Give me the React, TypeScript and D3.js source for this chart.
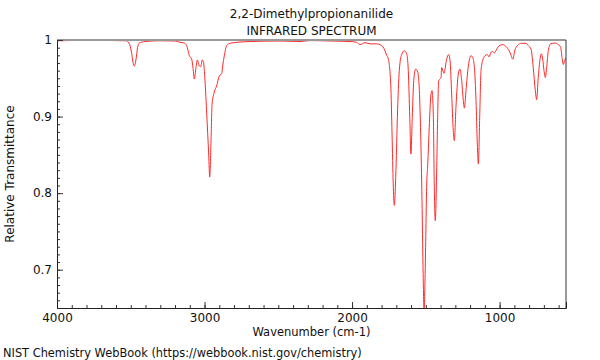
import { FC, useEffect, useRef } from 'react';
import * as d3 from 'd3';

const title = '2,2-Dimethylpropionanilide';
const subtitle = 'INFRARED SPECTRUM';
const xLabel = 'Wavenumber (cm-1)';
const yLabel = 'Relative Transmittance';
const footer = 'NIST Chemistry WebBook (https://webbook.nist.gov/chemistry)';

const xTicks = [4000, 3000, 2000, 1000];
const yTicks = [1, 0.9, 0.8, 0.7];

// spectrum: wavenumber (cm-1) and transmittance
const wavenumber = [
  4000, 3776, 3532, 3512, 3495, 3485, 3476, 3465, 3454, 3442, 3404, 3302, 3200, 3166, 3139, 3121,
  3103, 3087, 3078, 3069, 3058, 3049, 3035, 3026, 3015, 3008, 2997, 2985, 2972, 2965, 2956, 2949,
  2934, 2918, 2900, 2884, 2877, 2866, 2850, 2827, 2782, 2692, 2488, 2353, 2285, 2150, 2014, 1969,
  1946, 1912, 1878, 1833, 1811, 1790, 1765, 1754, 1738, 1729, 1721, 1714, 1702, 1693, 1680, 1664,
  1646, 1630, 1619, 1609, 1601, 1592, 1582, 1569, 1555, 1544, 1535, 1526, 1519, 1512, 1504, 1494,
  1487, 1477, 1465, 1458, 1449, 1443, 1436, 1427, 1420, 1413, 1404, 1397, 1393, 1377, 1359, 1345,
  1336, 1325, 1314, 1307, 1296, 1280, 1269, 1257, 1246, 1239, 1228, 1212, 1194, 1182, 1171, 1160,
  1151, 1144, 1135, 1126, 1115, 1099, 1083, 1072, 1058, 1047, 1036, 1020, 1002, 979, 952, 930,
  911, 896, 880, 850, 821, 805, 787, 772, 758, 749, 738, 726, 717, 708, 699, 690,
  681, 670, 654, 625, 602, 586, 577, 568, 559, 550,
];
const transmittance = [
  0.999, 0.9995, 0.999, 0.996, 0.984, 0.971, 0.966, 0.974, 0.99, 0.996, 0.998, 0.999, 0.9987, 0.997, 0.996, 0.9926,
  0.9795, 0.975, 0.963, 0.949, 0.964, 0.974, 0.966, 0.965, 0.974, 0.972, 0.947, 0.903, 0.851, 0.821, 0.868, 0.916,
  0.932, 0.94, 0.953, 0.956, 0.966, 0.9795, 0.9926, 0.9957, 0.997, 0.998, 0.9987, 0.998, 0.9993, 0.9987, 0.998, 0.997,
  0.994, 0.9965, 0.995, 0.995, 0.994, 0.991, 0.98, 0.975, 0.9425, 0.877, 0.812, 0.784, 0.834, 0.899, 0.96, 0.981,
  0.986, 0.982, 0.96, 0.899, 0.851, 0.899, 0.947, 0.962, 0.958, 0.934, 0.877, 0.79, 0.703, 0.645, 0.703, 0.812,
  0.838, 0.886, 0.9295, 0.934, 0.899, 0.812, 0.764, 0.825, 0.899, 0.947, 0.949, 0.951, 0.964, 0.9565, 0.975, 0.981,
  0.973, 0.9295, 0.8815, 0.8685, 0.912, 0.9556, 0.962, 0.947, 0.921, 0.911, 0.934, 0.966, 0.9795, 0.977, 0.964, 0.921,
  0.864, 0.838, 0.899, 0.96, 0.973, 0.9795, 0.981, 0.978, 0.984, 0.985, 0.983, 0.988, 0.9926, 0.994, 0.9905, 0.984,
  0.975, 0.987, 0.9926, 0.9957, 0.9957, 0.9926, 0.988, 0.964, 0.934, 0.922, 0.951, 0.975, 0.982, 0.975, 0.96, 0.951,
  0.964, 0.986, 0.995, 0.996, 0.994, 0.9905, 0.977, 0.968, 0.973, 0.9765,
];

const IrChart: FC = () => {
  const ref = useRef<SVGSVGElement | null>(null);

  useEffect(() => {
    const svg = d3.select(ref.current);
    svg.selectAll('*').remove();

    const margin = { top: 40, right: 34, bottom: 52, left: 57 };
    const width = 600 - margin.left - margin.right;
    const height = 360 - margin.top - margin.bottom;
    const font = 'DejaVu Sans, sans-serif';

    const x = d3.scaleLinear().domain([4000, 550]).range([0, width]);
    const y = d3.scaleLinear().domain([0.65, 1]).range([height, 0]);

    const g = svg.append('g').attr('transform', `translate(${margin.left},${margin.top})`);

    g.append('clipPath')
      .attr('id', 'plot-clip')
      .append('rect')
      .attr('width', width)
      .attr('height', height + 1);

    const pts = wavenumber.map((w, i) => [w, transmittance[i]] as [number, number]);
    const line = d3
      .line<[number, number]>()
      .x(d => x(d[0]))
      .y(d => y(d[1]))
      .curve(d3.curveMonotoneX);

    g.append('path')
      .datum(pts)
      .attr('clip-path', 'url(#plot-clip)')
      .attr('fill', 'none')
      .attr('stroke', '#ff2a2a')
      .attr('stroke-width', 1)
      .attr('d', line);

    // frame: grey top, dark right
    g.append('line')
      .attr('x1', 0).attr('x2', width).attr('y1', 0).attr('y2', 0)
      .attr('stroke', '#999').attr('stroke-width', 2);
    g.append('line')
      .attr('x1', width).attr('x2', width).attr('y1', 0).attr('y2', height)
      .attr('stroke', '#333').attr('stroke-width', 1);

    const minorX = d3.range(4000, 549, -100);
    const minorY = d3.range(65, 101).map(v => v / 100);

    // bottom axis, ticks pointing inward
    const xa = g.append('g').attr('transform', `translate(0,${height})`);
    xa.call(d3.axisBottom(x).tickValues(minorX).tickSize(-3).tickFormat(() => ''));
    xa.call(g2 => g2.select('.domain').remove());
    const xm = g.append('g').attr('transform', `translate(0,${height})`);
    xm.call(d3.axisBottom(x).tickValues(xTicks).tickSize(-6).tickPadding(5).tickFormat(d3.format('d')));
    xm.selectAll('text').attr('font-family', font).attr('font-size', 12).attr('fill', '#111');

    // left axis
    const ya = g.append('g');
    ya.call(d3.axisLeft(y).tickValues(minorY).tickSize(-3).tickFormat(() => ''));
    ya.call(g2 => g2.select('.domain').remove());
    const ym = g.append('g');
    ym.call(d3.axisLeft(y).tickValues(yTicks).tickSize(-6).tickPadding(5).tickFormat(d => `${d}`));
    ym.selectAll('text').attr('font-family', font).attr('font-size', 12).attr('fill', '#111');

    g.selectAll('.domain').attr('stroke', '#222');
    g.selectAll('.tick line').attr('stroke', '#333');

    const txt = (s: string, tx: number, ty: number, anchor = 'middle', size = 12) =>
      svg
        .append('text')
        .attr('x', tx)
        .attr('y', ty)
        .attr('text-anchor', anchor)
        .attr('font-family', font)
        .attr('font-size', size)
        .attr('fill', '#111')
        .text(s);

    const cx = margin.left + width / 2;
    txt(title, cx, 17.5);
    txt(subtitle, cx, 34.5);
    txt(xLabel, cx, 336, 'middle', 11.5);
    txt(footer, 3, 357, 'start', 11.4);
    svg
      .append('text')
      .attr('transform', `translate(14,${margin.top + height / 2}) rotate(-90)`)
      .attr('text-anchor', 'middle')
      .attr('font-family', font)
      .attr('font-size', 12)
      .attr('fill', '#111')
      .text(yLabel);
  }, []);

  return (
    <svg
      ref={ref}
      width={600}
      height={360}
      style={{ position: 'absolute', left: 0, top: 0, background: '#fff' }}
    />
  );
};

export default function App() {
  return <IrChart />;
}
